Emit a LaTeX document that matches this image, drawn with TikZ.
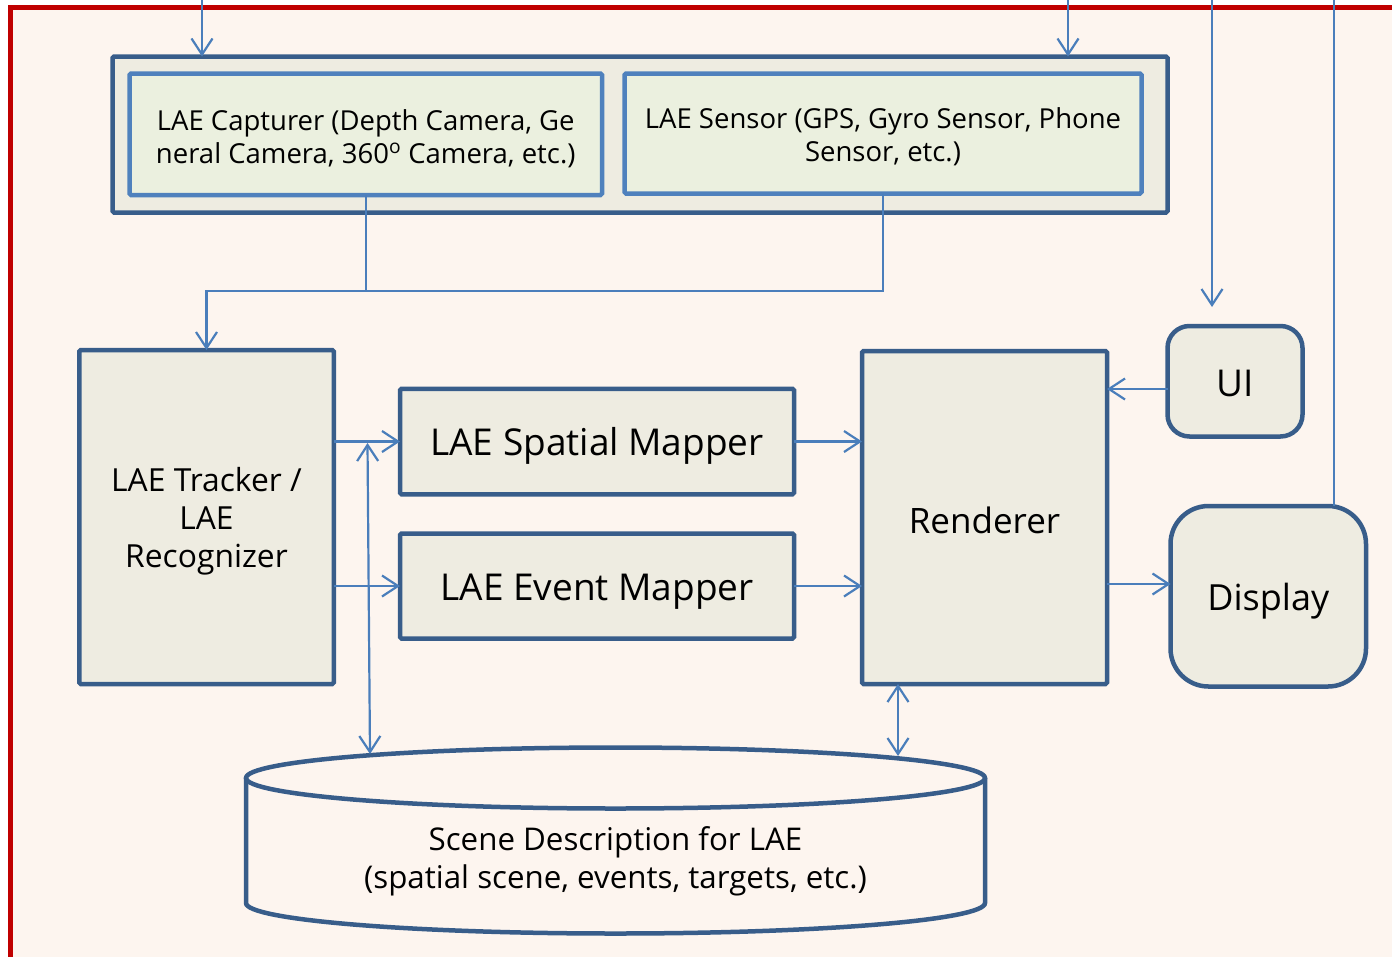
\documentclass[tikz,border=0pt]{standalone}
\usepackage{fontspec}
\setmainfont{Open Sans}
\usetikzlibrary{arrows.meta}

\definecolor{framered}{HTML}{C00000}
\definecolor{paper}{HTML}{FDF5EF}
\definecolor{dkblue}{HTML}{385D8A}
\definecolor{ltblue}{HTML}{4F81BD}
\definecolor{lnblue}{HTML}{4A7EBB}
\definecolor{beige}{HTML}{EEECE1}
\definecolor{pale}{HTML}{EBF0DF}

\begin{document}
\begin{tikzpicture}[x=1pt,y=-1pt,
  darkbox/.style={draw=dkblue, line width=4.5pt, fill=beige, rectangle,
    inner sep=0pt, outer sep=0pt, rounded corners=1.5pt},
  litebox/.style={draw=ltblue, line width=4.5pt, fill=pale, rectangle,
    inner sep=0pt, outer sep=0pt, rounded corners=1.5pt},
  softbox/.style={darkbox, rounded corners=#1},
  caption/.style={align=center, text=black, inner sep=0pt},
  smalltext/.style={caption, font=\fontsize{27.5}{33}\selectfont},
  bigtext/.style={caption, font=\fontsize{37}{44}\selectfont},
  wire/.style={draw=lnblue, line width=2.2pt, -{Straight Barb[length=16pt,width=21pt]}},
  wire2/.style={draw=lnblue, line width=2.2pt, {Straight Barb[length=16pt,width=21pt]}-{Straight Barb[length=16pt,width=21pt]}},
  bare/.style={draw=lnblue, line width=2.2pt},
]
\useasboundingbox (0,0) rectangle (1392,956);

% page background and red frame
\begin{scope}
  \clip (0,0) rectangle (1392,956);
  \fill[white] (0,0) rectangle (1392,956);
  \fill[paper] (10.5,7.5) rectangle (1420,980);
  \draw[framered, line width=4.5pt] (10.5,7.5) rectangle (1420,962);
\end{scope}

% input group
\node[darkbox, minimum width=1055pt, minimum height=156pt] (cont) at (640,134.5) {};
\node[litebox, minimum width=472.5pt, minimum height=121.5pt] (cap) at (365.75,134.25) {};
\node[litebox, minimum width=517pt, minimum height=120pt] (sen) at (883,133.5) {};
\node[smalltext] (capT) at ([yshift=-4pt]cap.center)
  {LAE Capturer (Depth Camera, Ge\\neral Camera, 360\textsuperscript{o} Camera, etc.)};
\node[smalltext] (senT) at ([yshift=-3.5pt]sen.center)
  {LAE Sensor (GPS, Gyro Sensor, Phone\\Sensor, etc.)};

% processing blocks
\node[darkbox, minimum width=254.5pt, minimum height=334pt] (trk) at (206.5,517) {};
\node[darkbox, minimum width=394pt, minimum height=105.5pt] (sp) at (597,441.5) {};
\node[darkbox, minimum width=394pt, minimum height=105pt] (ev) at (597,586) {};
\node[darkbox, minimum width=245pt, minimum height=333pt] (ren) at (984.5,517.5) {};
\node[softbox=22pt, minimum width=135pt, minimum height=110.5pt] (ui) at (1235,381.25) {};
\node[softbox=38pt, minimum width=195.5pt, minimum height=180.5pt] (disp) at (1268.25,596.25) {};

\node[caption, font=\fontsize{31.8}{38}\selectfont] (trkT) at ([yshift=-4pt]trk.center)
  {LAE Tracker /\\LAE\\Recognizer};
\node[bigtext] (spT) at ([yshift=-4pt]sp.center) {LAE Spatial Mapper};
\node[bigtext] (evT) at ([yshift=-5.5pt]ev.center) {LAE Event Mapper};
\node[caption, font=\fontsize{35}{42}\selectfont] (renT) at ([yshift=-3pt]ren.center) {Renderer};
\node[bigtext] (uiT) at ([yshift=-2pt]ui.center) {UI};
\node[caption, font=\fontsize{36}{42}\selectfont] (dispT) at ([yshift=-5pt]disp.center) {Display};

% scene description store
\draw[dkblue, line width=4.5pt] (246,778) -- (246,903)
  arc[start angle=180, end angle=360, x radius=369.5pt, y radius=30.5pt] -- (985,778);
\draw[dkblue, line width=4.5pt] (615.5,778) ellipse [x radius=369.5pt, y radius=30.5pt];
\node[caption, font=\fontsize{31.3}{38}\selectfont] (scene) at (615.5,861)
  {Scene Description for LAE\\(spatial scene, events, targets, etc.)};

% free ends of the connectors
\coordinate (inCap) at (202,0);
\coordinate (inSen) at (1068,0);
\coordinate (inUI) at (1212,0);
\coordinate (uiTip) at (1212,307);
\coordinate (outDisp) at (1334,0);
\coordinate (bus) at (206.5,291);
\coordinate (dbL) at (370,754);
\coordinate (jL) at (367.5,443);
\coordinate (dbR) at (898,756);
\coordinate (lvUI) at (0,389);
\coordinate (lvDisp) at (0,584);

% inputs from above
\draw[wire] (inCap) -- (inCap |- cont.north);
\draw[wire] (inSen) -- (inSen |- cont.north);
\draw[wire] (inUI) -- (uiTip);
\draw[bare] (outDisp |- disp.north) -- (outDisp);

% capture and sensor data to the tracker
\draw[bare] (cap.south) -- (cap.south |- bus);
\draw[wire] (sen.south) |- (bus) -- (trk.north);

% tracker to mappers and store
\draw[wire] (trk.east |- sp.west) -- (sp.west);
\draw[wire] (trk.east |- ev.west) -- (ev.west);
\draw[wire2] (jL) -- (dbL);

% mappers to renderer
\draw[wire] (sp.east) -- (ren.west |- sp.east);
\draw[wire] (ev.east) -- (ren.west |- ev.east);

% renderer, UI, display
\draw[wire] (ui.west |- lvUI) -- (ren.east |- lvUI);
\draw[wire] (ren.east |- lvDisp) -- (disp.west |- lvDisp);
\draw[wire2] (ren.south -| dbR) -- (dbR);
\end{tikzpicture}
\end{document}
